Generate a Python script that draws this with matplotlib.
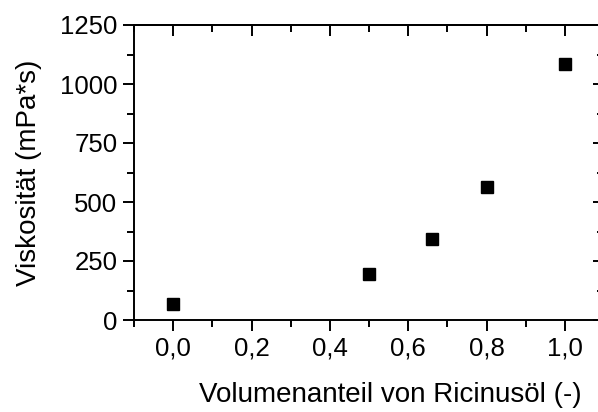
import numpy as np
import matplotlib.pyplot as plt
from matplotlib.ticker import MultipleLocator, FuncFormatter

plt.rcParams['font.family'] = ['Liberation Sans', 'DejaVu Sans']

# Messwerte
anteil = [0.0, 0.5, 0.66, 0.8, 1.0]
viskositaet = [68, 195, 345, 565, 1085]

x_ticks = [0.0, 0.2, 0.4, 0.6, 0.8, 1.0]
y_ticks = [0, 250, 500, 750, 1000, 1250]

fig = plt.figure(figsize=(5.98, 4.12), dpi=100)
ax = fig.add_axes([134/598, 1 - 320/412, (604 - 134)/598, (320 - 25)/412])

ax.plot(anteil, viskositaet, 's', color='black', markersize=8.5)

ax.set_xlim(-0.1, 1.1)
ax.set_ylim(0, 1250)
ax.set_xticks(x_ticks)
ax.set_yticks(y_ticks)
ax.xaxis.set_minor_locator(MultipleLocator(0.1))
ax.yaxis.set_minor_locator(MultipleLocator(125))
ax.xaxis.set_major_formatter(FuncFormatter(lambda v, p: f'{v:.1f}'.replace('.', ',')))

for s in ax.spines.values():
    s.set_linewidth(1.4)

ax.tick_params(which='both', direction='out', width=1.4, labelsize=18.5, pad=4)
ax.tick_params(which='major', length=8)
ax.tick_params(which='minor', length=5)

# Ticks oben und rechts nach innen (Origin-Stil)
top = ax.secondary_xaxis('top')
top.set_xticks(x_ticks)
top.xaxis.set_minor_locator(MultipleLocator(0.1))
top.tick_params(which='both', direction='in', width=1.4, labeltop=False)
top.tick_params(which='major', length=8)
top.tick_params(which='minor', length=5)
top.spines['top'].set_linewidth(1.4)

right = ax.secondary_yaxis('right')
right.set_yticks(y_ticks)
right.yaxis.set_minor_locator(MultipleLocator(125))
right.tick_params(which='both', direction='in', width=1.4, labelright=False)
right.tick_params(which='major', length=8)
right.tick_params(which='minor', length=5)
right.spines['right'].set_linewidth(1.4)

ax.set_xlabel('Volumenanteil von Ricinusöl (-)', fontsize=20, labelpad=15)
ax.xaxis.label.set_x(0.545)
ax.set_ylabel('Viskosität (mPa*s)', fontsize=20, labelpad=13)

fig.savefig('out.png', dpi=100)
